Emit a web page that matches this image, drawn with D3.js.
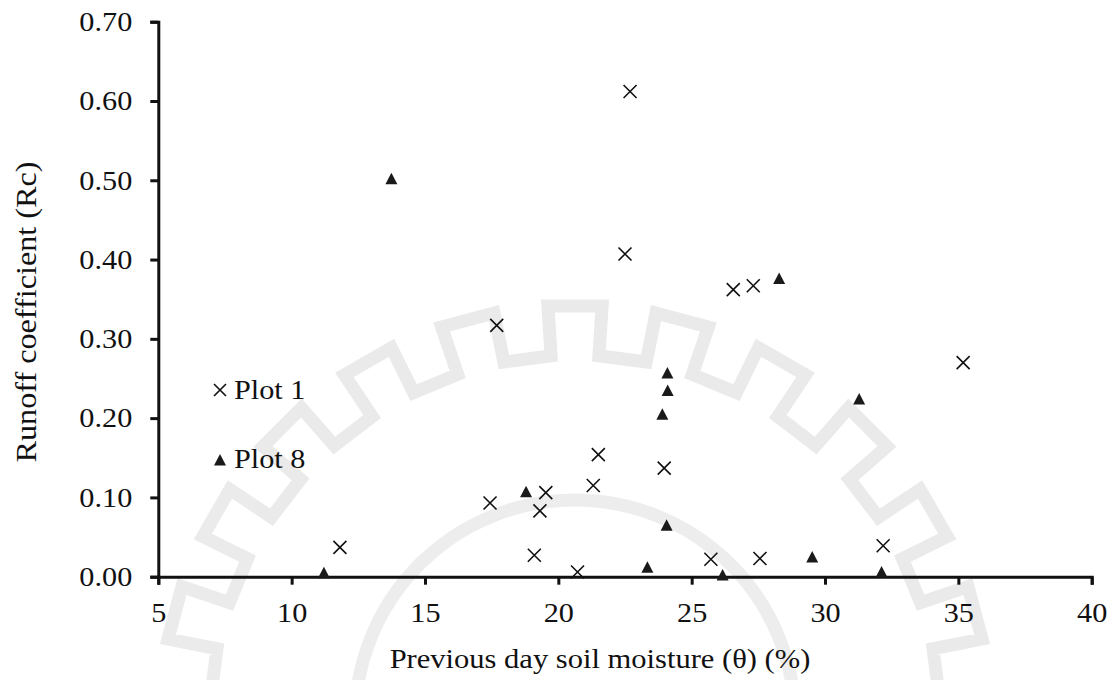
<!DOCTYPE html>
<html>
<head>
<meta charset="utf-8">
<script src="https://cdn.jsdelivr.net/npm/d3@7"></script>
<style>
  body { margin: 0; background: #fff; }
  svg { display: block; font-family: "Liberation Serif", "Times New Roman", serif; }
</style>
</head>
<body>
<svg id="chart" width="1118" height="680"></svg>
<script>
// Plot 1 (crosses)
const plot1X = [22.69, 22.50, 26.56, 27.31, 35.18, 17.69, 21.50, 23.97, 21.31, 19.53, 17.44, 19.31, 19.10, 20.72, 25.72, 27.56, 32.18, 11.81];
const plot1Y = [0.612, 0.407, 0.362, 0.367, 0.270, 0.317, 0.154, 0.137, 0.115, 0.106, 0.093, 0.083, 0.027, 0.006, 0.022, 0.023, 0.039, 0.037];

// Plot 8 (triangles)
const plot8X = [13.74, 28.28, 31.28, 24.09, 24.10, 23.90, 18.79, 24.06, 11.21, 23.34, 26.16, 29.52, 32.12];
const plot8Y = [0.502, 0.376, 0.224, 0.257, 0.235, 0.205, 0.107, 0.065, 0.005, 0.012, 0.002, 0.025, 0.006];

const xTicks = [5, 10, 15, 20, 25, 30, 35, 40];
const yTicks = [0, 0.1, 0.2, 0.3, 0.4, 0.5, 0.6, 0.7];
const seriesNames = ["Plot 1", "Plot 8"];

const width = 1118, height = 680;
const svg = d3.select("#chart");

// the source figure's lettering is a little wider than plain Times
function stretch(sel, k) {
  sel.each(function() {
    const w = this.getComputedTextLength();
    d3.select(this).attr("textLength", w * k).attr("lengthAdjust", "spacingAndGlyphs");
  });
}

// faint watermark gear in the background
function gearPath(cx, cy, rOut, rIn, teeth) {
  const step = 2 * Math.PI / teeth;
  let p = "";
  for (let i = 0; i < teeth; i++) {
    const a0 = -Math.PI / 2 + i * step - step / 4;
    const a1 = a0 + step / 2;
    const a2 = a0 + step;
    const pts = [[rIn, a0], [rOut, a0], [rOut, a1], [rIn, a1], [rIn, a2]];
    pts.forEach(function(q, j) {
      const x = cx + q[0] * Math.cos(q[1]);
      const y = cy + q[0] * Math.sin(q[1]);
      p += (i === 0 && j === 0 ? "M" : "L") + x.toFixed(1) + "," + y.toFixed(1);
    });
  }
  return p + "Z";
}

const wm = svg.append("g").attr("opacity", 0.45);
wm.append("path")
  .attr("d", gearPath(575, 720, 415, 365, 24))
  .attr("fill", "none")
  .attr("stroke", "#d2d2d2")
  .attr("stroke-width", 13);
wm.append("circle")
  .attr("cx", 575).attr("cy", 720).attr("r", 220)
  .attr("fill", "none")
  .attr("stroke", "#d8d8d8")
  .attr("stroke-width", 13);

const x = d3.scaleLinear().domain([5, 40]).range([158.3, 1091.7]);
const y = d3.scaleLinear().domain([0, 0.7]).range([576.7, 21.7]);

const xAxis = svg.append("g")
  .attr("transform", "translate(0," + y(0) + ")")
  .call(d3.axisBottom(x).tickValues(xTicks).tickSize(8).tickPadding(18).tickFormat(d3.format("d")));

const yAxis = svg.append("g")
  .attr("transform", "translate(" + x(5) + ",0)")
  .call(d3.axisLeft(y).tickValues(yTicks).tickSize(8).tickPadding(18).tickFormat(d3.format(".2f")));

[xAxis, yAxis].forEach(function(a) {
  a.select(".domain").attr("stroke", "#111").attr("stroke-width", 3);
  a.selectAll(".tick line").attr("stroke", "#111").attr("stroke-width", 3);
  a.selectAll(".tick text")
    .attr("fill", "#111")
    .style("font-family", "'Liberation Serif', 'Times New Roman', serif")
    .style("font-size", "27.5px")
    .call(stretch, 1.1);
});

// axis titles
svg.append("text")
  .attr("x", 600)
  .attr("y", 668)
  .attr("text-anchor", "middle")
  .attr("fill", "#111")
  .style("font-size", "27.5px")
  .text("Previous day soil moisture (θ) (%)")
  .call(stretch, 1.11);

svg.append("text")
  .attr("transform", "translate(36,312) rotate(-90)")
  .attr("text-anchor", "middle")
  .attr("fill", "#111")
  .style("font-size", "28.5px")
  .text("Runoff coefficient (Rc)")
  .call(stretch, 1.13);

function crossPath(s) {
  return "M" + (-s) + "," + (-s) + "L" + s + "," + s + "M" + (-s) + "," + s + "L" + s + "," + (-s);
}
const triPath = "M0,-6L6,5.5L-6,5.5Z";

const plot1 = plot1X.map(function(d, i) { return { x: d, y: plot1Y[i] }; });
const plot8 = plot8X.map(function(d, i) { return { x: d, y: plot8Y[i] }; });

svg.append("g")
  .selectAll("path")
  .data(plot1)
  .enter()
  .append("path")
  .attr("transform", function(d) { return "translate(" + x(d.x) + "," + y(d.y) + ")"; })
  .attr("d", crossPath(6.5))
  .attr("stroke", "#111")
  .attr("stroke-width", 1.6)
  .attr("fill", "none");

svg.append("g")
  .selectAll("path")
  .data(plot8)
  .enter()
  .append("path")
  .attr("transform", function(d) { return "translate(" + x(d.x) + "," + y(d.y) + ")"; })
  .attr("d", triPath)
  .attr("fill", "#1a1a1a");

// legend
const legend = svg.append("g");
legend.append("path")
  .attr("transform", "translate(220,390)")
  .attr("d", crossPath(6))
  .attr("stroke", "#111")
  .attr("stroke-width", 1.6)
  .attr("fill", "none");
legend.append("path")
  .attr("transform", "translate(220,460)")
  .attr("d", triPath)
  .attr("fill", "#1a1a1a");
legend.selectAll("text")
  .data(seriesNames)
  .enter()
  .append("text")
  .attr("x", 234)
  .attr("y", function(d, i) { return 399 + i * 69; })
  .attr("fill", "#111")
  .style("font-size", "27.5px")
  .text(function(d) { return d; })
  .call(stretch, 1.1);
</script>
</body>
</html>
